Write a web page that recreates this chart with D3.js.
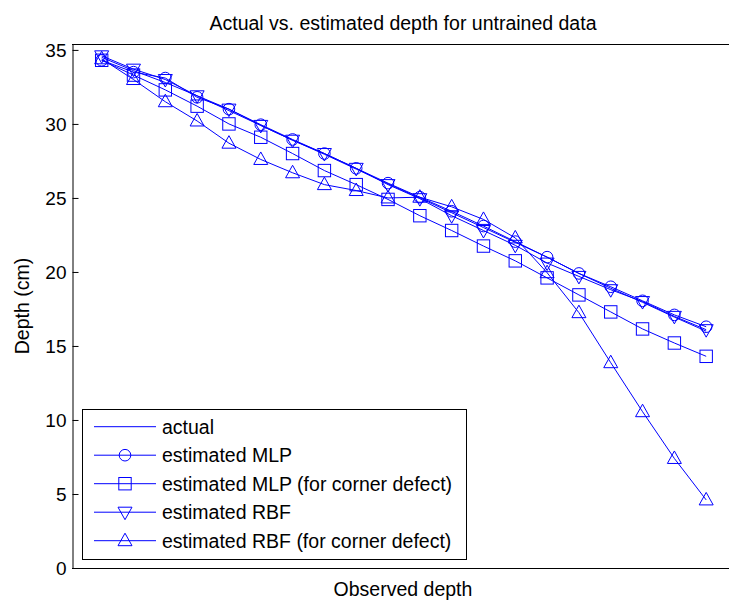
<!DOCTYPE html>
<html><head><meta charset="utf-8">
<script src="https://cdn.jsdelivr.net/npm/d3@7"></script>
<style>
html,body{margin:0;padding:0;background:#fff;}
svg{display:block;}
text{font-family:"Liberation Sans",Arial,sans-serif;fill:#000;}
</style></head>
<body>
<svg id="chart" width="729" height="601"></svg>
<script>
const obs = [1,2,3,4,5,6,7,8,9,10,11,12,13,14,15,16,17,18,19,20];
const actual = [34.5,33.6,32.8,31.9,30.9,29.9,28.9,27.95,26.95,25.95,25.0,24.0,23.0,22.0,21.0,19.9,18.9,17.95,16.95,16.0];
const mlp = [34.3,33.5,33.1,31.8,31.0,29.95,28.95,28.0,27.0,26.0,25.05,24.1,23.1,22.05,21.0,19.9,19.0,18.05,17.1,16.3];
const mlpCorner = [34.3,33.3,32.3,31.2,30.0,29.1,28.0,26.85,25.9,24.9,23.8,22.8,21.75,20.75,19.6,18.45,17.3,16.15,15.2,14.3];
const rbf = [34.6,33.7,33.0,31.9,31.0,29.9,28.9,28.0,27.0,25.9,24.95,23.8,22.8,21.8,20.6,19.7,18.8,18.0,17.0,16.1];
const rbfCorner = [34.4,33.0,31.5,30.2,28.7,27.6,26.7,25.9,25.5,25.0,25.05,24.4,23.55,22.3,19.95,17.25,13.87,10.56,7.4,4.6];
const yTicks = [0,5,10,15,20,25,30,35];
const seriesNames = ["actual","estimated MLP","estimated MLP (for corner defect)","estimated RBF","estimated RBF (for corner defect)"];
const seriesMarkers = ["none","circle","square","down","up"];
const seriesData = [actual, mlp, mlpCorner, rbf, rbfCorner];

const L = 72, T = 44, B = 568, R = 738;
const color = "#0000ff";
const svg = d3.select("#chart");
const x = d3.scaleLinear().domain([0.067, 21]).range([L, R]);
const y = d3.scaleLinear().domain([0, 35.4]).range([B, T]);

// axes frame
svg.append("line").attr("x1",L).attr("x2",729).attr("y1",T+0.5).attr("y2",T+0.5).attr("stroke","#000");
svg.append("line").attr("x1",L).attr("x2",729).attr("y1",B+0.5).attr("y2",B+0.5).attr("stroke","#000");

const yAxis = d3.axisLeft(y).tickValues(yTicks).tickSizeInner(-6).tickSizeOuter(0).tickPadding(6);
const gy = svg.append("g").attr("transform",`translate(${L+0.5},0)`).call(yAxis);
gy.select(".domain").attr("stroke","#000");
gy.selectAll(".tick line").attr("stroke","#000");
gy.selectAll(".tick text").attr("font-size","19px").attr("font-family","Liberation Sans, Arial, sans-serif").attr("fill","#000");

function marker(sel, type){
  if(type==="circle") return sel.append("circle").attr("r",5.8);
  if(type==="square") return sel.append("rect").attr("x",-6.2).attr("y",-6.2).attr("width",12.4).attr("height",12.4);
  if(type==="up") return sel.append("path").attr("d","M0,-7.5L7,5L-7,5Z");
  if(type==="down") return sel.append("path").attr("d","M0,7.5L7,-5L-7,-5Z");
  return null;
}

const line = d3.line().x((d,i)=>x(obs[i])).y(d=>y(d));
const plot = svg.append("g");
seriesData.forEach((vals,k)=>{
  plot.append("path").datum(vals).attr("d",line).attr("fill","none").attr("stroke",color).attr("stroke-width",1);
  if(seriesMarkers[k]!=="none"){
    vals.forEach((v,i)=>{
      const g = plot.append("g").attr("transform",`translate(${x(obs[i])},${y(v)})`);
      marker(g, seriesMarkers[k]).attr("fill","none").attr("stroke",color).attr("stroke-width",1);
    });
  }
});

// title and labels
svg.append("text").attr("x",403).attr("y",29.5).attr("text-anchor","middle").attr("font-size","19.5px").text("Actual vs. estimated depth for untrained data");
svg.append("text").attr("x",403).attr("y",596).attr("text-anchor","middle").attr("font-size","19.5px").text("Observed depth");
svg.append("text").attr("transform",`translate(29,${(T+B)/2}) rotate(-90)`).attr("text-anchor","middle").attr("font-size","19.5px").text("Depth (cm)");

// legend
const lg = svg.append("g");
lg.append("rect").attr("x",82.5).attr("y",409.5).attr("width",384).attr("height",150).attr("fill","#fff").attr("stroke","#000");
const rowY = d3.scaleLinear().domain([0,4]).range([426.7,540.7]);
seriesNames.forEach((name,k)=>{
  const cy = rowY(k);
  lg.append("line").attr("x1",94).attr("x2",156).attr("y1",cy).attr("y2",cy).attr("stroke",color).attr("stroke-width",1);
  if(seriesMarkers[k]!=="none"){
    const g = lg.append("g").attr("transform",`translate(125,${cy})`);
    marker(g, seriesMarkers[k]).attr("fill","none").attr("stroke",color).attr("stroke-width",1);
  }
  lg.append("text").attr("x",162).attr("y",cy+7).attr("font-size","19.5px").text(name);
});
</script>
</body></html>
